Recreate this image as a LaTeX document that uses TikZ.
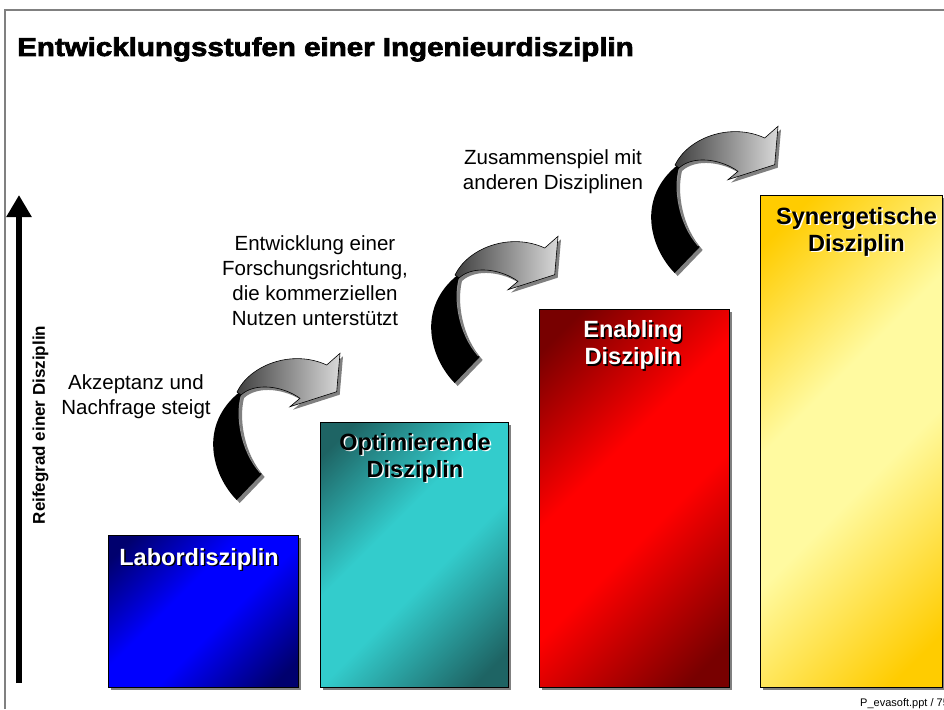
\documentclass[tikz,border=0pt]{standalone}
\usepackage{fontspec}
\setmainfont{Liberation Sans}
\newfontfamily\titlefont[FakeBold=2.5]{Liberation Sans}
\usetikzlibrary{arrows.meta,shadows}
\definecolor{bluedark}{RGB}{0,0,110}
\definecolor{bluebright}{RGB}{0,0,255}
\definecolor{tealdark}{RGB}{30,100,100}
\definecolor{tealbright}{RGB}{51,204,204}
\definecolor{reddark}{RGB}{120,0,0}
\definecolor{redbright}{RGB}{255,0,0}
\definecolor{yellowdark}{RGB}{255,204,0}
\definecolor{yellowbright}{RGB}{255,250,160}
\definecolor{framegray}{RGB}{128,128,128}
\pgfdeclarehorizontalshading{blueshade}{100bp}{color(0bp)=(bluedark); color(20bp)=(bluedark); color(42bp)=(bluebright); color(56bp)=(bluebright); color(80bp)=(bluedark); color(100bp)=(bluedark)}
\pgfdeclarehorizontalshading{tealshade}{100bp}{color(0bp)=(tealdark); color(20bp)=(tealdark); color(42bp)=(tealbright); color(56bp)=(tealbright); color(80bp)=(tealdark); color(100bp)=(tealdark)}
\pgfdeclarehorizontalshading{redshade}{100bp}{color(0bp)=(reddark); color(20bp)=(reddark); color(42bp)=(redbright); color(56bp)=(redbright); color(80bp)=(reddark); color(100bp)=(reddark)}
\pgfdeclarehorizontalshading{yellowshade}{100bp}{color(0bp)=(yellowdark); color(20bp)=(yellowdark); color(42bp)=(yellowbright); color(56bp)=(yellowbright); color(80bp)=(yellowdark); color(100bp)=(yellowdark)}
\tikzset{
  stagebox/.style={draw=black, line width=0.8pt, inner sep=0pt, outer sep=0pt,
    anchor=north west,
    drop shadow={shadow xshift=3pt, shadow yshift=-3pt, fill=black!50, opacity=1}},
  diag/.style={shade, shading=#1, shading angle=-45},
  lbl/.style={font=\fontsize{23.5}{27}\selectfont\bfseries, align=center, inner sep=0pt, anchor=north},
  note/.style={font=\fontsize{20.5}{25}\selectfont, align=center, inner sep=0pt, anchor=north},
}
\begin{document}
\begin{tikzpicture}[x=1pt,y=-1pt]
\useasboundingbox (0,0) rectangle (944,709);
\fill[white] (0,0) rectangle (944,709);
% frame
\coordinate (fbl) at (5,709); \coordinate (ftl) at (5,10); \coordinate (ftr) at (944,10);
\draw[framegray, line width=1.5pt] (fbl) -- (ftl) -- (ftr);
% title
\node[anchor=base west, inner sep=0pt] (title) at (17,56)
  {\titlefont\bfseries\fontsize{26}{30}\selectfont\scalebox{1.135}[1]{Entwicklungsstufen einer Ingenieurdisziplin}};
% axis
\coordinate (axb) at (19,683); \coordinate (axt) at (19,195);
\draw[line width=6.5pt, -{Triangle[length=22pt,width=24pt]}] (axb) -- (axt);
\node[rotate=90, font=\fontsize{17}{20}\selectfont\bfseries, inner sep=0pt] (axlbl) at (40.5,425) {Reifegrad einer Disziplin};
% boxes
\node[stagebox, minimum width=190pt, minimum height=152pt, diag=blueshade] (b1) at (108,535) {};
\node[stagebox, minimum width=188pt, minimum height=265pt, diag=tealshade] (b2) at (320,422) {};
\node[stagebox, minimum width=190pt, minimum height=378pt, diag=redshade] (b3) at (539,309) {};
\node[stagebox, minimum width=182pt, minimum height=492pt, diag=yellowshade] (b4) at (760,195) {};
% box labels
\node[lbl, text=black] (t1s) at (200.5,549.5) {Labordisziplin};
\node[lbl, text=white] (t1) at (199,548) {Labordisziplin};
\node[lbl, text=white] (t2s) at (416.5,434.5) {Optimierende\\Disziplin};
\node[lbl, text=black] (t2) at (415,433) {Optimierende\\Disziplin};
\node[lbl, text=black] (t3s) at (634.5,322.1) {Enabling\\Disziplin};
\node[lbl, text=white] (t3) at (633,320.6) {Enabling\\Disziplin};
\node[lbl, text=white] (t4s) at (858,208.5) {Synergetische\\Disziplin};
\node[lbl, text=black] (t4) at (856.5,207) {Synergetische\\Disziplin};
% notes
\node[note] (n1) at (136,374.6) {Akzeptanz und\\Nachfrage steigt};
\node[note] (n2) at (315,235.1) {Entwicklung einer\\Forschungsrichtung,\\die kommerziellen\\Nutzen unterstützt};
\node[note] (n3) at (553,149.1) {Zusammenspiel mit\\anderen Disziplinen};
% curved arrows
\foreach \dx/\dy in {0/0, 218/-117, 438/-227}{
\begin{scope}[shift={(\dx,\dy)}]
  \begin{scope}[shift={(3,3)}]
    \fill[black!50] (236.7,500) .. controls (212,475) and (198,425) .. (240,391.7) -- (241,395) .. controls (236,415) and (240,450) .. (261.7,474) -- cycle;
    \fill[black!50] (237,392) .. controls (250,365) and (292,349) .. (326.7,365) -- (340,353.3) -- (336.7,391.7) -- (290,406.7) -- (300,398.3) .. controls (283,386) and (255,382) .. (241,395) -- cycle;
  \end{scope}
  \fill[black] (236.7,500) .. controls (212,475) and (198,425) .. (240,391.7) -- (241,395) .. controls (236,415) and (240,450) .. (261.7,474) -- cycle;
  \draw[black!45, line width=1pt] (241,397) .. controls (236,415) and (240,450) .. (260.5,473);
  \shade[left color=black!75, middle color=black!45, right color=black!15, draw=black, line width=0.6pt]
    (237,392) .. controls (250,365) and (292,349) .. (326.7,365) -- (340,353.3) -- (336.7,391.7) -- (290,406.7) -- (300,398.3) .. controls (283,386) and (255,382) .. (241,395) -- cycle;
\end{scope}
}
% footer
\node[anchor=base west, inner sep=0pt, font=\fontsize{11}{13}\selectfont] (foot) at (860,706) {P\_evasoft.ppt / 75};
\end{tikzpicture}
\end{document}
